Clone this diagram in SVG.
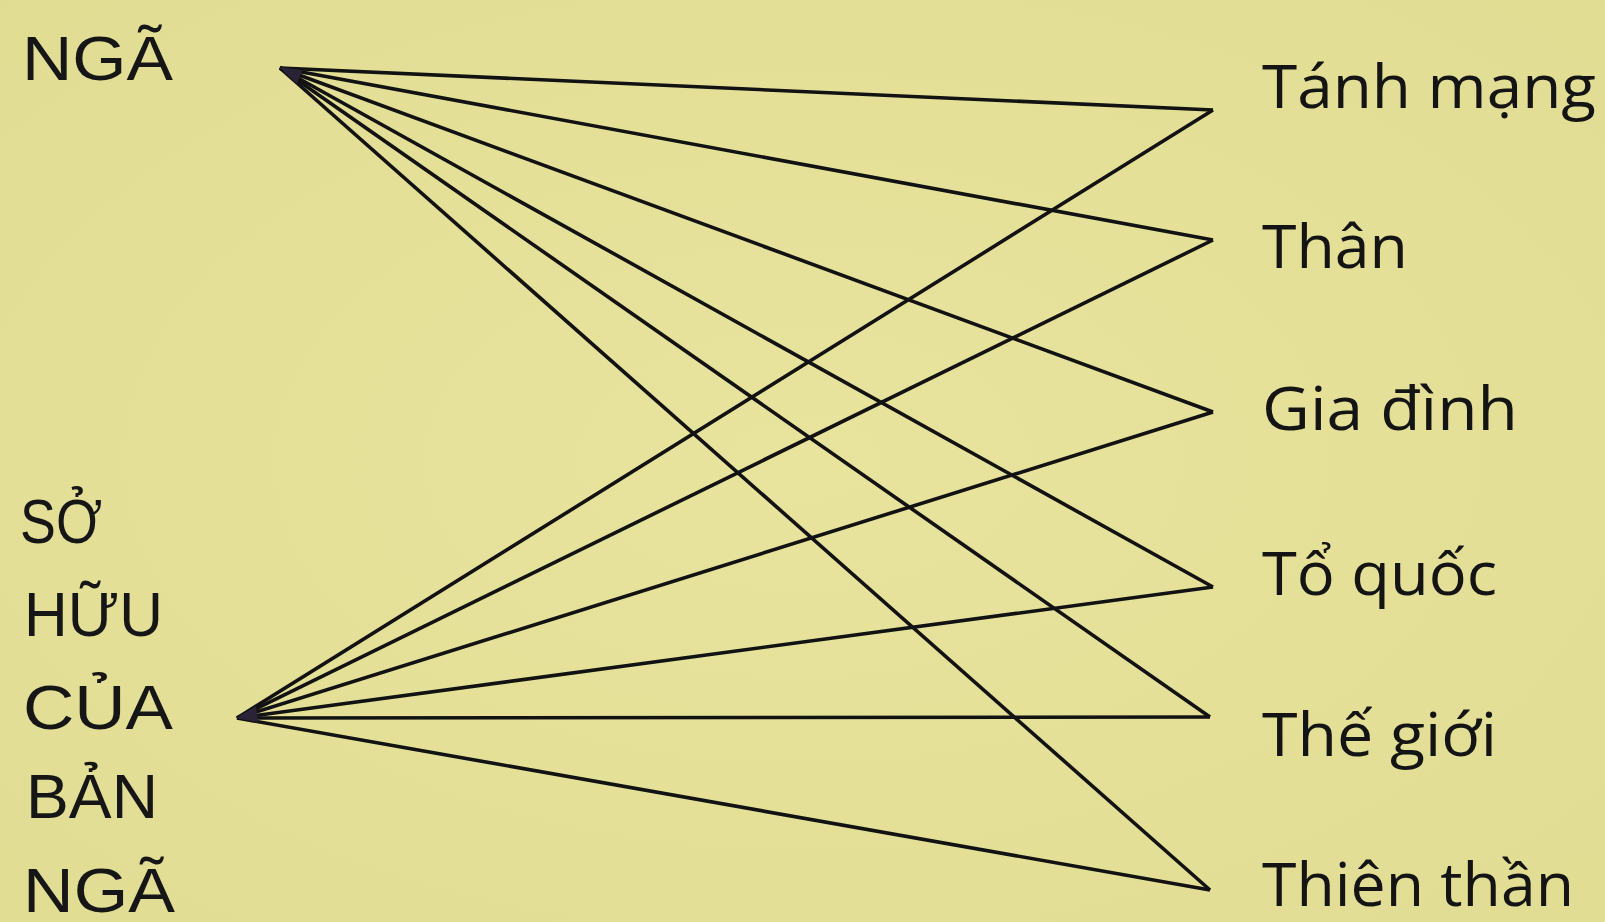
<svg xmlns="http://www.w3.org/2000/svg" width="1605" height="922" viewBox="0 0 1605 922">
<defs>
<radialGradient id="paper" cx="50%" cy="50%" r="75%">
<stop offset="0" stop-color="#e8e49e"/>
<stop offset="1" stop-color="#e0dc92"/>
</radialGradient>
</defs>
<style>
.left{font-family:"Liberation Sans","DejaVu Sans",sans-serif;font-size:63px;fill:#161616}
.right{font-family:"Open Sans","Noto Sans",sans-serif;font-size:60px;fill:#141414}
.conn line{stroke:#121212;stroke-width:3.6;stroke-linecap:butt}
.hub{fill:#2a2236}
</style>
<rect width="1605" height="922" fill="url(#paper)"/>
<g id="node-nga">
<text class="left" x="22" y="80" textLength="151" lengthAdjust="spacingAndGlyphs">NGÃ</text>
</g>
<g id="node-so-huu-cua-ban-nga">
<text class="left" x="20" y="543" textLength="82" lengthAdjust="spacingAndGlyphs">SỞ</text>
<text class="left" x="24" y="636" textLength="139" lengthAdjust="spacingAndGlyphs">HỮU</text>
<text class="left" x="23" y="729" textLength="150" lengthAdjust="spacingAndGlyphs">CỦA</text>
<text class="left" x="26" y="818" textLength="132" lengthAdjust="spacingAndGlyphs">BẢN</text>
<text class="left" x="23" y="912" textLength="152" lengthAdjust="spacingAndGlyphs">NGÃ</text>
</g>
<g id="node-tanh-mang"><text class="right" x="1262" y="108" textLength="334" lengthAdjust="spacingAndGlyphs">Tánh mạng</text></g>
<g id="node-than"><text class="right" x="1262" y="268" textLength="146" lengthAdjust="spacingAndGlyphs">Thân</text></g>
<g id="node-gia-dinh"><text class="right" x="1262" y="430" textLength="256" lengthAdjust="spacingAndGlyphs">Gia đình</text></g>
<g id="node-to-quoc"><text class="right" x="1262" y="595" textLength="235" lengthAdjust="spacingAndGlyphs">Tổ quốc</text></g>
<g id="node-the-gioi"><text class="right" x="1262" y="756" textLength="235" lengthAdjust="spacingAndGlyphs">Thế giới</text></g>
<g id="node-thien-than"><text class="right" x="1262" y="906" textLength="312" lengthAdjust="spacingAndGlyphs">Thiên thần</text></g>
<g id="connectors" class="conn">
<line x1="280" y1="68" x2="1213" y2="110"/>
<line x1="280" y1="68" x2="1213" y2="240"/>
<line x1="280" y1="68" x2="1213" y2="412"/>
<line x1="280" y1="68" x2="1213" y2="587"/>
<line x1="280" y1="68" x2="1210" y2="717"/>
<line x1="280" y1="68" x2="1210" y2="890"/>
<line x1="237" y1="718" x2="1213" y2="110"/>
<line x1="237" y1="718" x2="1213" y2="240"/>
<line x1="237" y1="718" x2="1213" y2="412"/>
<line x1="237" y1="718" x2="1213" y2="587"/>
<line x1="237" y1="718" x2="1210" y2="717"/>
<line x1="237" y1="718" x2="1210" y2="890"/>
<polygon class="hub" points="279,67 302,70 297,84"/>
<polygon class="hub" points="236,718 256,706 258,722"/>
</g>
</svg>
